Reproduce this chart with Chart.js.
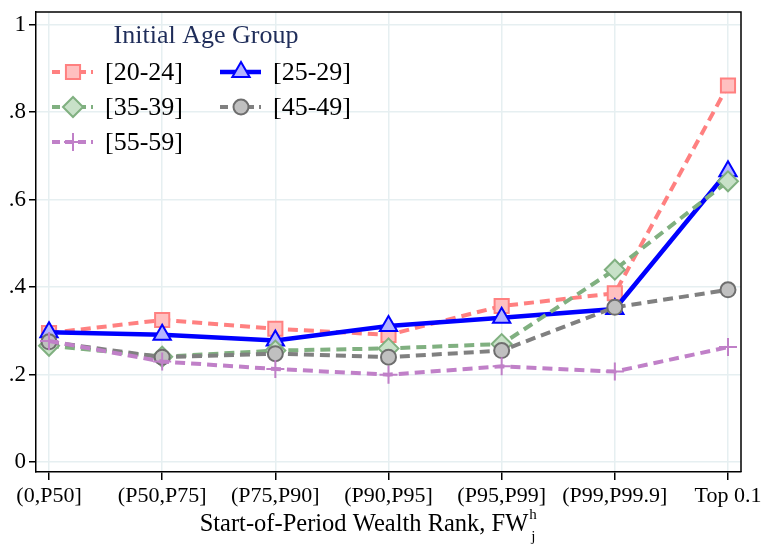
<!DOCTYPE html>
<html>
<head>
<meta charset="utf-8">
<script src="https://cdn.jsdelivr.net/npm/chart.js@4.4.0/dist/chart.umd.min.js"></script>
<style>
html, body { margin: 0; padding: 0; background: #fff; }
#wrap { width: 761px; height: 549px; position: relative; }
</style>
</head>
<body>
<div id="wrap"><canvas id="myChart"></canvas></div>
<script>
var categories = ['(0,P50]', '(P50,P75]', '(P75,P90]', '(P90,P95]', '(P95,P99]', '(P99,P99.9]', 'Top 0.1'];
var age_groups = ['[20-24]', '[25-29]', '[35-39]', '[45-49]', '[55-59]'];
var age_20_24 = [0.295, 0.325, 0.305, 0.291, 0.357, 0.386, 0.861];
var age_25_29 = [0.297, 0.291, 0.278, 0.311, 0.330, 0.350, 0.665];
var age_35_39 = [0.266, 0.241, 0.255, 0.260, 0.270, 0.440, 0.642];
var age_45_49 = [0.275, 0.240, 0.248, 0.240, 0.255, 0.354, 0.394];
var age_55_59 = [0.277, 0.230, 0.213, 0.200, 0.219, 0.207, 0.263];
var y_ticks = [0, 0.2, 0.4, 0.6, 0.8, 1];
var y_tick_labels = ['0', '.2', '.4', '.6', '.8', '1'];

var serif = '"Liberation Serif", "Times New Roman", serif';

function pts(arr) {
    return arr.map(function (v, i) { return { x: i, y: v }; });
}

var styles = [
    { line: 'rgb(255,128,128)', fill: 'rgb(255,192,192)', edge: 'rgb(255,128,128)', dash: [10, 6], width: 4, shape: 'rect', r: 10 },
    { line: 'rgb(0,0,255)', fill: 'rgb(180,180,255)', edge: 'rgb(0,0,255)', dash: [], width: 4.5, shape: 'triangle', r: 10 },
    { line: 'rgb(128,176,128)', fill: 'rgb(200,225,200)', edge: 'rgb(128,176,128)', dash: [10, 6], width: 4, shape: 'rectRot', r: 10 },
    { line: 'rgb(128,128,128)', fill: 'rgb(192,192,192)', edge: 'rgb(110,110,110)', dash: [10, 6], width: 4, shape: 'circle', r: 7.5 },
    { line: 'rgb(192,128,200)', fill: 'rgb(192,128,200)', edge: 'rgb(192,128,200)', dash: [10, 6], width: 4, shape: 'cross', r: 9 }
];
var series = [age_20_24, age_25_29, age_35_39, age_45_49, age_55_59];

var datasets = series.map(function (s, i) {
    var st = styles[i];
    return {
        label: age_groups[i],
        data: pts(s),
        order: 4 - i,
        borderColor: st.line,
        borderWidth: st.width,
        borderDash: st.dash,
        pointStyle: st.shape,
        pointRadius: st.r,
        pointBackgroundColor: st.fill,
        pointBorderColor: st.edge,
        pointBorderWidth: 2,
        tension: 0,
        fill: false
    };
});

// legend + frame + axis title drawn by hand
var extras = {
    id: 'extras',
    afterDraw: function (chart) {
        var ctx = chart.ctx;
        var a = chart.chartArea;
        ctx.save();
        ctx.strokeStyle = '#000';
        ctx.lineWidth = 1.5;
        ctx.beginPath();
        ctx.moveTo(a.left, a.top);
        ctx.lineTo(a.right, a.top);
        ctx.lineTo(a.right, a.bottom);
        ctx.stroke();

        ctx.fillStyle = '#1f2d5a';
        ctx.font = '26px ' + serif;
        ctx.textAlign = 'center';
        ctx.textBaseline = 'middle';
        ctx.fillText('Initial Age Group', 206, 36);

        var pos = [[52, 72], [220, 72], [52, 107], [220, 107], [52, 142]];
        for (var i = 0; i < age_groups.length; i++) {
            var st = styles[i];
            var x0 = pos[i][0], y0 = pos[i][1];
            ctx.setLineDash(st.dash.length ? [8, 5] : []);
            ctx.strokeStyle = st.line;
            ctx.lineWidth = st.width;
            ctx.beginPath();
            ctx.moveTo(x0, y0);
            ctx.lineTo(x0 + 41, y0);
            ctx.stroke();
            ctx.setLineDash([]);
            ctx.fillStyle = st.fill;
            ctx.strokeStyle = st.edge;
            ctx.lineWidth = 2;
            Chart.helpers.drawPoint(ctx, { pointStyle: st.shape, radius: st.r, rotation: 0, borderWidth: 2 }, x0 + 21, y0);
            ctx.fillStyle = '#000';
            ctx.font = '26px ' + serif;
            ctx.textAlign = 'left';
            ctx.fillText(age_groups[i], x0 + 53, y0 + 1);
        }

        // x axis title with super/subscript
        ctx.fillStyle = '#000';
        ctx.textAlign = 'left';
        ctx.textBaseline = 'alphabetic';
        ctx.font = '24.5px ' + serif;
        var main = 'Start-of-Period Wealth Rank, FW';
        var w = ctx.measureText(main).width;
        var x = 364 - w / 2;
        ctx.fillText(main, x, 531);
        ctx.font = '15px ' + serif;
        ctx.fillText('h', x + w + 1, 519);
        ctx.fillText('j', x + w + 3, 541);
        ctx.restore();
    }
};

var ctx = document.getElementById('myChart').getContext('2d');
var myChart = new Chart(ctx, {
    type: 'line',
    data: { datasets: datasets },
    plugins: [extras],
    options: {
        responsive: true,
        maintainAspectRatio: false,
        animation: false,
        layout: { padding: { top: 5, right: 20, left: 0, bottom: 0 } },
        plugins: { legend: { display: false }, tooltip: { enabled: false } },
        scales: {
            x: {
                type: 'linear',
                min: -0.115,
                max: 6.115,
                afterBuildTicks: function (scale) {
                    scale.ticks = categories.map(function (c, i) { return { value: i }; });
                },
                afterFit: function (scale) {
                    scale.height = 77;
                    scale.paddingLeft = 0;
                    scale.paddingRight = 0;
                },
                ticks: {
                    autoSkip: false,
                    maxRotation: 0,
                    color: '#000',
                    font: { family: serif, size: 22 },
                    padding: 3,
                    callback: function (v) { return categories[v]; }
                },
                grid: { color: '#e6eff1', lineWidth: 1.5, tickColor: '#000', tickLength: 8, tickWidth: 1.5 },
                border: { display: true, color: '#000', width: 1.5 }
            },
            y: {
                type: 'linear',
                min: -0.0225,
                max: 1.029,
                afterBuildTicks: function (scale) {
                    scale.ticks = y_ticks.map(function (v) { return { value: v }; });
                },
                afterFit: function (scale) {
                    scale.width = 36;
                    scale.paddingTop = 0;
                    scale.paddingBottom = 0;
                },
                ticks: {
                    color: '#000',
                    font: { family: serif, size: 23 },
                    padding: 3,
                    callback: function (v) { return y_tick_labels[y_ticks.indexOf(v)]; }
                },
                grid: { color: '#e6eff1', lineWidth: 1.5, tickColor: '#000', tickLength: 7, tickWidth: 1.5 },
                border: { display: true, color: '#000', width: 1.5 }
            }
        }
    }
});
</script>
</body>
</html>
